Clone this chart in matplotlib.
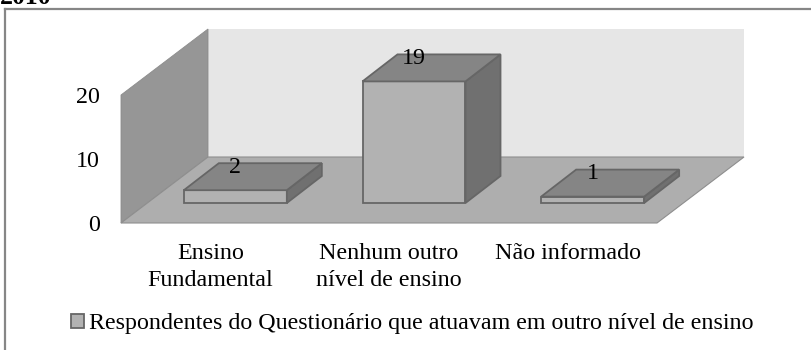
import matplotlib
matplotlib.use('Agg')
import matplotlib.pyplot as plt
from matplotlib.patches import Patch, Polygon
from matplotlib.lines import Line2D

categories = ['Ensino\nFundamental', 'Nenhum outro\nnível de ensino', 'Não informado']
values = [2, 19, 1]
y_ticks = [0, 10, 20]
series_name = 'Respondentes do Questionário que atuavam em outro nível de ensino'
title_text = '2010'

plt.rcParams['font.family'] = ['Liberation Serif', 'DejaVu Serif']
W, H = 812, 350
fig = plt.figure(figsize=(W / 100, H / 100), dpi=100, facecolor='white')
ax = fig.add_axes([121 / W, (H - 223) / H, 536 / W, 128 / H])
ax.set_xlim(0, 3)
ax.set_ylim(0, 20)

# depth of the fake 3d box and of the bars, in data units
wall_dx, wall_dy = 87 / 178.67, 66 / 6.4
bar_dx, bar_dy = 35 / 178.67, 27 / 6.4
bar_base = 20 / 6.4
bar_width = 103 / 178.67
bar_shift = 25 / 178.67  # bars sit to the right of the category labels

def poly(pts, face, edge='none', lw=0, z=1):
    ax.add_patch(Polygon(pts, closed=True, facecolor=face, edgecolor=edge,
                         linewidth=lw, clip_on=False, zorder=z))

# walls and floor
poly([(wall_dx, wall_dy), (wall_dx, 20 + wall_dy), (3 + wall_dx, 20 + wall_dy), (3 + wall_dx, wall_dy)], '#e6e6e6')
poly([(0, 0), (0, 20), (wall_dx, 20 + wall_dy), (wall_dx, wall_dy)], '#969696', '#8c8c8c', 0.6)
poly([(0, 0), (3, 0), (3 + wall_dx, wall_dy), (wall_dx, wall_dy)], '#aeaeae', '#8e8e8e', 0.8)

edge = '#666666'
for i, v in enumerate(values):
    xc = i + 0.5 + bar_shift
    x0 = xc - bar_width / 2
    x1 = xc + bar_width / 2
    y0 = bar_base
    y1 = bar_base + v
    poly([(x0, y0), (x1, y0), (x1, y1), (x0, y1)], '#b2b2b2', edge, 1.3, 3)
    poly([(x1, y0), (x1 + bar_dx, y0 + bar_dy), (x1 + bar_dx, y1 + bar_dy), (x1, y1)], '#707070', edge, 1.3, 3)
    poly([(x0, y1), (x1, y1), (x1 + bar_dx, y1 + bar_dy), (x0 + bar_dx, y1 + bar_dy)], '#858585', edge, 1.3, 3)
    ax.text(xc, y1 + 23 / 6.4, str(v), ha='center', va='center', fontsize=17.3, color='black', zorder=5)

for s in ax.spines.values():
    s.set_visible(False)
ax.patch.set_visible(False)
ax.set_yticks(y_ticks)
ax.set_xticks([i + 0.5 for i in range(len(categories))])
ax.set_xticklabels(categories, fontsize=17.3, linespacing=1.35)
ax.tick_params(axis='y', length=0, pad=15, labelsize=17.3)
ax.tick_params(axis='x', length=0, pad=14.5)

# outer chart frame, cut off by the image edge
frame = '#868686'
fig.add_artist(Line2D([5 / W, 5 / W], [0, 1 - 9 / H], color=frame, lw=1.6))
fig.add_artist(Line2D([5 / W, 1], [1 - 9 / H, 1 - 9 / H], color=frame, lw=1.6))

fig.legend(handles=[Patch(facecolor='#b2b2b2', edgecolor='#666666', linewidth=1.3, label=series_name)],
           loc='center left', bbox_to_anchor=(71 / W, 1 - 324 / H), frameon=False, fontsize=17.3,
           handlelength=0.55, handleheight=0.55, handletextpad=0.2, borderpad=0, borderaxespad=0)

# only the bottom of the heading shows in the reference
fig.text(0, 1 - 4 / H, title_text, fontsize=18.5, fontweight='bold', ha='left', va='baseline')

fig.savefig('out.png', dpi=100)
